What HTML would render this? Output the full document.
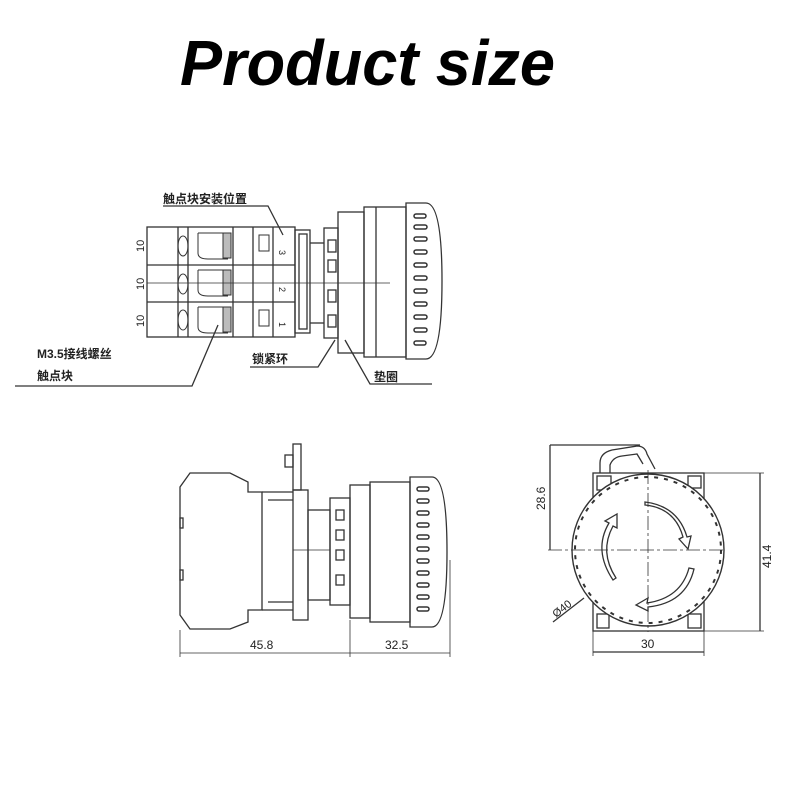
<!DOCTYPE html>
<html><head><meta charset="utf-8"><style>
html,body{margin:0;padding:0;background:#fff}
svg{display:block}
text{font-family:"Liberation Sans","Noto Sans CJK SC",sans-serif}
</style></head><body>
<svg width="800" height="800" viewBox="0 0 800 800" xmlns="http://www.w3.org/2000/svg">
<rect width="800" height="800" fill="#fff"/>
<text x="180" y="85" font-size="64" font-weight="bold" font-style="italic" textLength="375" lengthAdjust="spacingAndGlyphs" fill="#000">Product size</text>

<g fill="none" stroke="#333" stroke-width="1.3">
<!-- TOP VIEW -->
<rect x="147" y="227" width="148" height="110"/>
<line x1="178" y1="227" x2="178" y2="337"/>
<line x1="188" y1="227" x2="188" y2="337"/>
<line x1="233" y1="227" x2="233" y2="337"/>
<line x1="253" y1="227" x2="253" y2="337"/>
<line x1="273" y1="227" x2="273" y2="337"/>
<line x1="147" y1="265" x2="295" y2="265"/>
<line x1="147" y1="302" x2="295" y2="302"/>
<g stroke-width="1">
<ellipse cx="183" cy="246" rx="5" ry="10"/><ellipse cx="183" cy="284" rx="5" ry="10"/><ellipse cx="183" cy="320" rx="5" ry="10"/>
<path d="M198 233 h25 v12 M198 233 v20 q0 6 10 6 h20"/><path d="M198 270 h25 v12 M198 270 v20 q0 6 10 6 h20"/><path d="M198 307 h25 v12 M198 307 v20 q0 6 10 6 h20"/>
<rect x="259" y="235" width="10" height="16"/><rect x="259" y="310" width="10" height="16"/>
<rect x="223" y="233" width="8" height="25" fill="#bbb"/><rect x="223" y="270" width="8" height="25" fill="#bbb"/><rect x="223" y="307" width="8" height="25" fill="#bbb"/>
</g>
<rect x="295" y="230" width="15" height="103"/>
<rect x="299" y="234" width="8" height="95"/>
<line x1="310" y1="243" x2="324" y2="243"/><line x1="310" y1="323" x2="324" y2="323"/>
<rect x="324" y="228" width="14" height="110"/>
<rect x="328" y="240" width="8" height="12"/><rect x="328" y="260" width="8" height="12"/><rect x="328" y="290" width="8" height="12"/><rect x="328" y="315" width="8" height="12"/>
<rect x="338" y="212" width="26" height="141"/>
<rect x="364" y="207" width="42" height="150"/>
<line x1="376" y1="207" x2="376" y2="357"/>
<path d="M406 203 h20 q16 0 16 78 q0 78 -16 78 h-20 z"/>
<g stroke-width="1.5">
<rect x="414" y="214" width="12" height="4" rx="2"/><rect x="414" y="225" width="13" height="4" rx="2"/><rect x="414" y="237" width="13" height="4" rx="2"/><rect x="414" y="250" width="13" height="4" rx="2"/><rect x="414" y="263" width="13" height="4" rx="2"/><rect x="414" y="276" width="13" height="4" rx="2"/><rect x="414" y="289" width="13" height="4" rx="2"/><rect x="414" y="302" width="13" height="4" rx="2"/><rect x="414" y="315" width="13" height="4" rx="2"/><rect x="414" y="328" width="13" height="4" rx="2"/><rect x="414" y="341" width="12" height="4" rx="2"/>
</g>
<line x1="147" y1="283" x2="390" y2="283" stroke-width="0.8"/>
<polyline points="163,206 268,206 283,235"/>
<polyline points="250,367 318,367 335,340"/>
<polyline points="345,340 370,384 432,384"/>
<polyline points="15,386 192,386 218,325"/>

<!-- BOTTOM LEFT -->
<path d="M190 473 H230 L248 482 V492 H262 V610 H248 V622 L230 629 H190 L180 615 V487 Z"/>
<rect x="180" y="518" width="3" height="10"/><rect x="180" y="570" width="3" height="10"/>
<path d="M262 492 h31 M262 610 h31 M268 500 h25 M268 602 h25"/>
<rect x="293" y="490" width="15" height="130"/>
<rect x="293" y="444" width="8" height="46"/>
<rect x="285" y="455" width="8" height="12"/>
<rect x="308" y="510" width="22" height="90"/>
<rect x="330" y="498" width="20" height="107"/>
<rect x="336" y="510" width="8" height="10"/><rect x="336" y="530" width="8" height="10"/><rect x="336" y="550" width="8" height="10"/><rect x="336" y="575" width="8" height="10"/>
<rect x="350" y="485" width="20" height="133"/>
<rect x="370" y="482" width="40" height="140"/>
<path d="M410 477 h22 q15 0 15 75 q0 75 -15 75 h-22 z"/>
<g stroke-width="1.5">
<rect x="417" y="487" width="12" height="4" rx="2"/><rect x="417" y="499" width="12" height="4" rx="2"/><rect x="417" y="511" width="12" height="4" rx="2"/><rect x="417" y="523" width="12" height="4" rx="2"/><rect x="417" y="535" width="12" height="4" rx="2"/><rect x="417" y="547" width="12" height="4" rx="2"/><rect x="417" y="559" width="12" height="4" rx="2"/><rect x="417" y="571" width="12" height="4" rx="2"/><rect x="417" y="583" width="12" height="4" rx="2"/><rect x="417" y="595" width="12" height="4" rx="2"/><rect x="417" y="607" width="12" height="4" rx="2"/>
</g>
<line x1="293" y1="550" x2="330" y2="550" stroke-width="0.8"/>
<line x1="180" y1="630" x2="180" y2="657" stroke-width="0.8"/>
<line x1="350" y1="620" x2="350" y2="657" stroke-width="0.8"/>
<line x1="450" y1="560" x2="450" y2="657" stroke-width="0.8"/>
<line x1="180" y1="653" x2="450" y2="653" stroke-width="0.8"/>

<!-- BOTTOM RIGHT -->
<rect x="593" y="473" width="111" height="158"/>
<rect x="597" y="476" width="14" height="14"/><rect x="688" y="476" width="13" height="12"/>
<rect x="597" y="614" width="12" height="14"/><rect x="688" y="614" width="13" height="14"/>
<circle cx="648" cy="550" r="76" fill="#fff" stroke-width="1.4"/>
<circle cx="648" cy="550" r="73" stroke-dasharray="4 6" stroke-width="2"/>
<path d="M600 473 v-10 q0 -10 12 -13 l25 -4 q8 0 10 8 l8 15 M610 473 v-8 q3 -8 12 -9 l15 -2 l6 10"/>
<line x1="648" y1="470" x2="648" y2="632" stroke-dasharray="14 3 3 3" stroke-width="0.8"/>
<line x1="548" y1="550" x2="725" y2="550" stroke-dasharray="14 3 3 3" stroke-width="0.8"/>
<path d="M645 505 q30 3 38 32 l-4 2 l9 10 l3 -13 l-4 1 q-9 -31 -42 -35 z"/>
<path d="M689 568 q-8 30 -42 35 l1 -5 l-12 7 l12 6 l0 -4 q38 -4 46 -38 z"/>
<path d="M613 580 q-20 -30 -4 -57 l-4 -2 l12 -7 l0 14 l-4 -2 q-14 26 3 52 z"/>
<polyline points="550,445 640,445"/>
<line x1="550" y1="445" x2="550" y2="550"/>
<line x1="704" y1="473" x2="764" y2="473" stroke-width="0.8"/>
<line x1="704" y1="631" x2="764" y2="631" stroke-width="0.8"/>
<line x1="760" y1="473" x2="760" y2="631"/>
<line x1="593" y1="631" x2="593" y2="656" stroke-width="0.8"/>
<line x1="704" y1="631" x2="704" y2="656" stroke-width="0.8"/>
<line x1="593" y1="652" x2="704" y2="652"/>
<line x1="553" y1="622" x2="584" y2="598"/>
</g>

<g fill="#222" font-size="12">
<g font-weight="bold">
<text x="163" y="203">触点块安装位置</text>
<text x="252" y="363">锁紧环</text>
<text x="374" y="381">垫圈</text>
<text x="37" y="358">M3.5接线螺丝</text>
<text x="37" y="380">触点块</text>
</g>
<text transform="translate(144,252) rotate(-90)" font-size="11">10</text>
<text transform="translate(144,290) rotate(-90)" font-size="11">10</text>
<text transform="translate(144,327) rotate(-90)" font-size="11">10</text>
<text x="250" y="649" font-size="12">45.8</text>
<text x="385" y="649" font-size="12">32.5</text>
<text transform="translate(545,510) rotate(-90)" font-size="12">28.6</text>
<text transform="translate(771,568) rotate(-90)" font-size="12">41.4</text>
<text x="641" y="648" font-size="12">30</text>
<text transform="translate(556,618) rotate(-38)" font-size="11">Ø40</text>
<text x="279" y="250" font-size="9" transform="rotate(90 279 250)">3</text>
<text x="279" y="287" font-size="9" transform="rotate(90 279 287)">2</text>
<text x="279" y="322" font-size="9" transform="rotate(90 279 322)">1</text>
</g>
</svg>
</body></html>
